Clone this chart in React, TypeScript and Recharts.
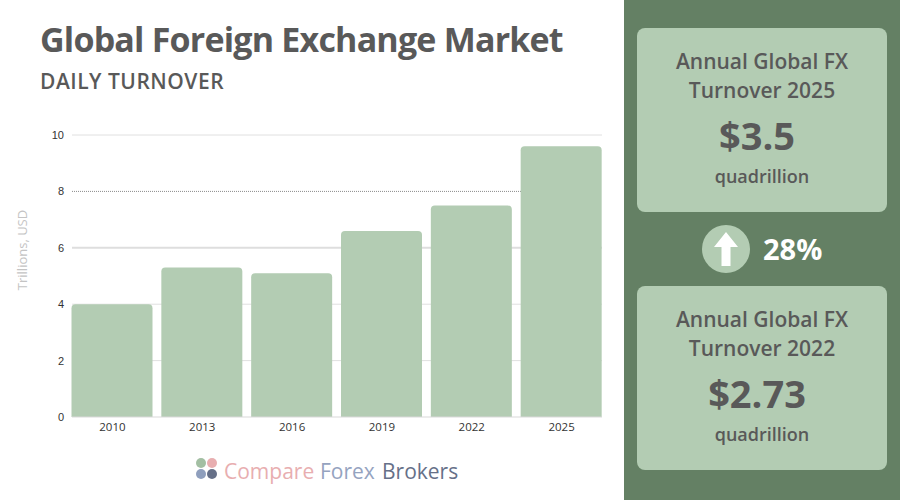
// App.tsx
import React from 'react';
import { BarChart, Bar, XAxis, YAxis, CartesianGrid } from 'recharts';

const years = ['2010', '2013', '2016', '2019', '2022', '2025'];
const turnover = [4.0, 5.3, 5.1, 6.6, 7.5, 9.6];
const yTicks = [0, 2, 4, 6, 8, 10];

const data = years.map((year, i) => ({ year, turnover: turnover[i] }));

const FONT = '"Open Sans", sans-serif';
const GREY = '#595959';

const Card = ({ top, title, year, value }: any) => (
  <div style={{ position: 'absolute', left: 637, top, width: 250, height: 184, background: '#b3ccb3', borderRadius: 8, color: GREY, textAlign: 'center', fontFamily: FONT }}>
    <div style={{ position: 'absolute', left: 0, right: 0, top: 19, fontSize: 21, fontWeight: 600, lineHeight: '29px' }}>
      {title}<br />Turnover {year}
    </div>
    <div style={{ position: 'absolute', left: 0, right: 10, top: 80, fontSize: 38, fontWeight: 700, lineHeight: '54px' }}>{value}</div>
    <div style={{ position: 'absolute', left: 0, right: 0, top: 136, fontSize: 18, fontWeight: 600, lineHeight: '24px' }}>quadrillion</div>
  </div>
);

const LogoWord = ({ left, color, children }: any) => (
  <span style={{ position: 'absolute', left, top: 457, fontFamily: FONT, fontSize: 21, fontWeight: 500, lineHeight: '28px', color, whiteSpace: 'nowrap' }}>{children}</span>
);

export default function App() {
  return (
    <div style={{ position: 'absolute', left: 0, top: 0, width: 900, height: 500, background: '#fff', overflow: 'hidden' }}>
      <div style={{ position: 'absolute', left: 40, top: 15, fontFamily: FONT, fontSize: 34, fontWeight: 700, letterSpacing: -0.8, color: GREY, lineHeight: '48px', whiteSpace: 'nowrap' }}>
        Global Foreign Exchange Market
      </div>
      <div style={{ position: 'absolute', left: 40, top: 67, fontFamily: FONT, fontSize: 21, fontWeight: 600, letterSpacing: 0.5, color: GREY, lineHeight: '29px', whiteSpace: 'nowrap' }}>
        DAILY TURNOVER
      </div>

      <div style={{ position: 'absolute', left: 0, top: 0 }}>
        <BarChart width={624} height={500} data={data} margin={{ top: 135, right: 22, bottom: 53, left: 0 }}>
          <CartesianGrid vertical={false} horizontalValues={[10, 4, 2]} stroke="#e0e0e0" />
          <CartesianGrid vertical={false} horizontalValues={[8]} stroke="#8a8a8a" strokeDasharray="1 1" />
          <CartesianGrid vertical={false} horizontalValues={[6]} stroke="#dedede" strokeWidth={2} />
          <XAxis
            dataKey="year"
            padding={{ left: -4.5, right: -4.5 }}
            axisLine={{ stroke: '#d9d9d9' }}
            tickLine={false}
            tick={{ fontSize: 11.5, fill: '#333', fontFamily: FONT }}
            tickMargin={0}
            interval={0}
          />
          <YAxis
            width={72}
            domain={[0, 10]}
            ticks={yTicks}
            axisLine={false}
            tickLine={false}
            tick={{ fontSize: 11, fill: '#333', fontFamily: '"Liberation Sans", sans-serif' }}
            tickMargin={2}
            label={{ value: 'Trillions, USD', angle: -90, position: 'insideLeft', offset: 22, dy: -26, style: { fontSize: 13, fill: '#c4c4c4', fontFamily: FONT, textAnchor: 'middle' } }}
          />
          <Bar dataKey="turnover" fill="#b3ccb3" barSize={81} radius={[4, 4, 0, 0]} isAnimationActive={false} />
        </BarChart>
      </div>

      {/* logo */}
      <svg style={{ position: 'absolute', left: 190, top: 452 }} width={32} height={32}>
        <circle cx={11} cy={11} r={5} fill="#a3bfa3" />
        <circle cx={22} cy={11} r={5} fill="#e8aeb0" />
        <circle cx={11} cy={22} r={5} fill="#8f9fbd" />
        <circle cx={22} cy={22} r={5} fill="#667088" />
      </svg>
      <LogoWord left={224} color="#e8aeb0">Compare</LogoWord>
      <LogoWord left={320} color="#95a3bf">Forex</LogoWord>
      <LogoWord left={382} color="#667088">Brokers</LogoWord>

      {/* right panel */}
      <div style={{ position: 'absolute', left: 624, top: 0, width: 276, height: 500, background: '#648064' }} />
      <Card top={28} title="Annual Global FX" year="2025" value="$3.5" />
      <Card top={286} title="Annual Global FX" year="2022" value="$2.73" />
      <svg style={{ position: 'absolute', left: 702, top: 225 }} width={48} height={48}>
        <circle cx={24} cy={24} r={24} fill="#b3ccb3" />
        <path d="M24 7 L36 22 L28.5 22 L28.5 41 L19.5 41 L19.5 22 L12 22 Z" fill="#fff" />
      </svg>
      <div style={{ position: 'absolute', left: 763, top: 229, fontFamily: FONT, fontSize: 29, fontWeight: 700, color: '#fff', lineHeight: '40px' }}>28%</div>
    </div>
  );
}
